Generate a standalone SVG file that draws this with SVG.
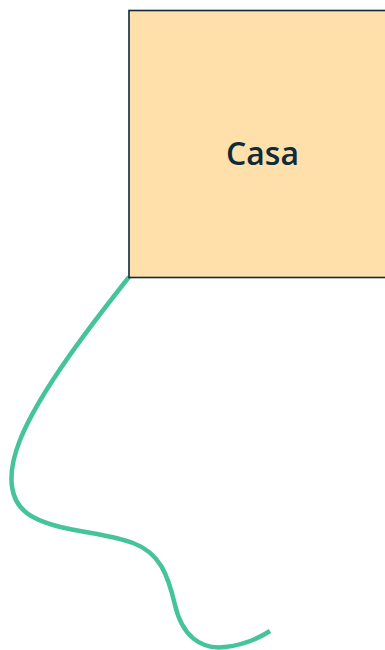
<svg xmlns="http://www.w3.org/2000/svg" width="385" height="650" viewBox="0 0 385 650">
<style>
.node rect{fill:#FFDFAA;stroke:#0F2A38;stroke-width:1.6}
.node text{font-family:"Open Sans","Noto Sans",sans-serif;font-weight:600;font-size:32px;fill:#0F2A38;text-anchor:middle}
.edge{fill:none;stroke:#45C49B;stroke-width:4.5;stroke-linecap:butt}
</style>
<rect width="385" height="650" fill="#FFFFFF"/>
<g id="connectors">
<path class="edge" d="M129,277 C95,320 40,390 20,440 C5,478 10,505 33,517 C60,532 105,532 133,543 C160,553 168,575 175,605 C182,635 200,650 225,647 C243,645 256,640 270,631"/>
</g>
<g id="casa" class="node">
<rect x="129" y="10.5" width="270" height="267"/>
<text x="262.5" y="165">Casa</text>
</g>
</svg>
